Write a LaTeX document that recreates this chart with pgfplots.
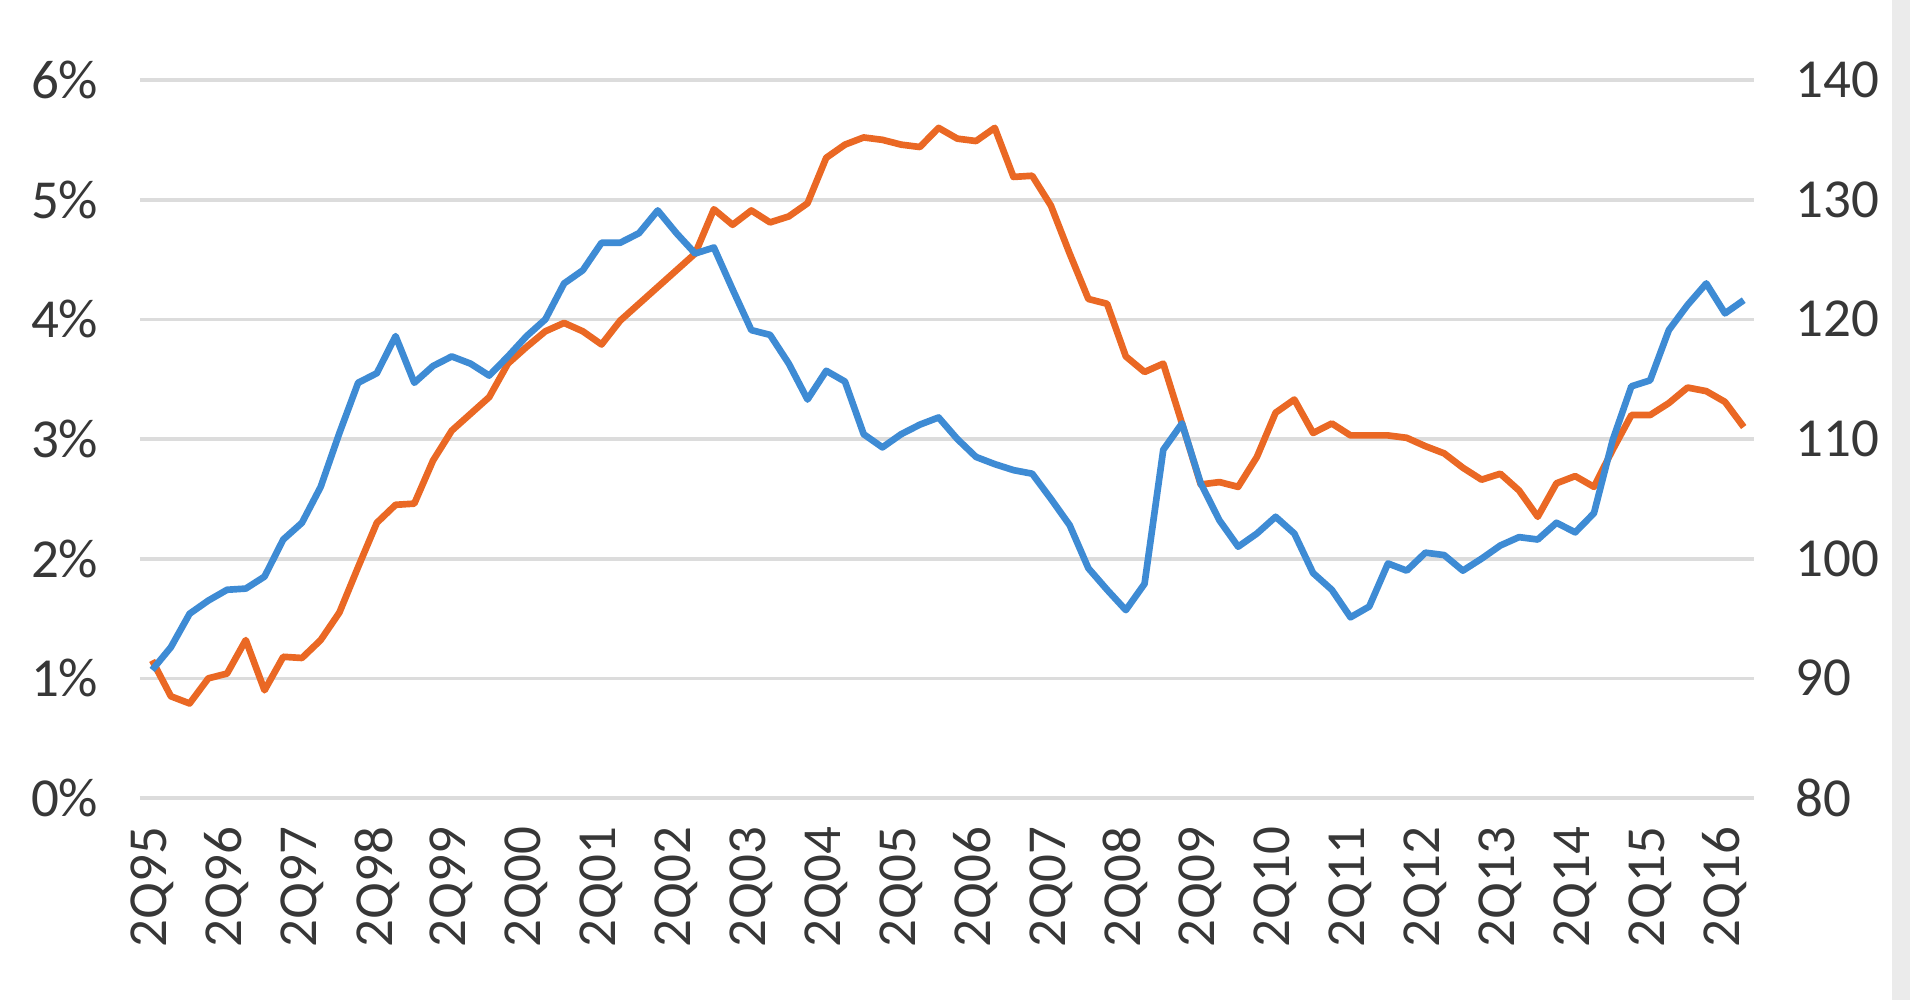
\documentclass[border=0pt]{standalone}
\usepackage{fontspec}
\setmainfont{Carlito}
\usepackage{pgfplots}
\pgfplotsset{compat=1.18}
\definecolor{lineblue}{RGB}{62,139,212}
\definecolor{lineorange}{RGB}{234,104,36}
\definecolor{gridgray}{RGB}{220,220,220}
\definecolor{labelgray}{RGB}{55,55,55}

\begin{document}
\begin{tikzpicture}
\path[use as bounding box] (-42pt,-60.6pt) rectangle (531pt,239.4pt);
\fill[black!8] (525.6pt,-60.6pt) rectangle (531pt,239.4pt);
\pgfplotsset{common/.style={
  width=484.2pt, height=215.4pt, scale only axis,
  at={(0,0)}, anchor=south west,
  xmin=-0.65, xmax=85.55,
  axis line style={draw=none},
  major tick length=0pt,
  tick label style={font=\fontsize{16.5}{18}\selectfont, text=labelgray},
}}
\begin{axis}[common,
  ymin=0, ymax=6,
  ytick={0,1,2,3,4,5,6},
  yticklabels={0\%,1\%,2\%,3\%,4\%,5\%,6\%},
  ymajorgrids,
  grid style={gridgray, line width=1.1pt},
  xtick={0,4,...,84},
  xticklabels={2Q95,2Q96,2Q97,2Q98,2Q99,2Q00,2Q01,2Q02,2Q03,2Q04,2Q05,2Q06,2Q07,2Q08,2Q09,2Q10,2Q11,2Q12,2Q13,2Q14,2Q15,2Q16},
  xticklabel style={rotate=90, anchor=east},
  xticklabel shift=5pt,
  yticklabel shift=9pt,
]
\addplot[lineorange, line width=2pt, line join=round] table {
x y
0 1.15
1 0.85
2 0.79
3 1.00
4 1.04
5 1.32
6 0.90
7 1.18
8 1.17
9 1.32
10 1.55
11 1.93
12 2.30
13 2.45
14 2.46
15 2.82
16 3.07
17 3.21
18 3.35
19 3.63
20 3.77
21 3.90
22 3.97
23 3.90
24 3.79
25 3.99
26 4.13
27 4.27
28 4.41
29 4.55
30 4.92
31 4.79
32 4.91
33 4.81
34 4.86
35 4.97
36 5.35
37 5.46
38 5.52
39 5.50
40 5.46
41 5.44
42 5.60
43 5.51
44 5.49
45 5.60
46 5.19
47 5.20
48 4.95
49 4.55
50 4.17
51 4.13
52 3.69
53 3.56
54 3.63
55 3.13
56 2.62
57 2.64
58 2.60
59 2.85
60 3.22
61 3.33
62 3.05
63 3.13
64 3.03
65 3.03
66 3.03
67 3.01
68 2.94
69 2.88
70 2.76
71 2.66
72 2.71
73 2.57
74 2.35
75 2.63
76 2.69
77 2.60
78 2.91
79 3.20
80 3.20
81 3.30
82 3.43
83 3.40
84 3.31
85 3.10
};
\end{axis}
\begin{axis}[common,
  ymin=80, ymax=140,
  axis y line*=right, axis x line=none,
  ytick={80,90,100,110,120,130,140},
  yticklabels={80,90,100,110,120,130,140},
  yticklabel shift=9pt,
]
\addplot[lineblue, line width=2pt, line join=round] table {
x y
0 90.7
1 92.6
2 95.4
3 96.5
4 97.4
5 97.5
6 98.5
7 101.6
8 103.0
9 106.0
10 110.5
11 114.7
12 115.5
13 118.6
14 114.7
15 116.1
16 116.9
17 116.3
18 115.3
19 116.9
20 118.6
21 120.0
22 123.0
23 124.1
24 126.4
25 126.4
26 127.2
27 129.1
28 127.2
29 125.5
30 126.0
31 122.5
32 119.1
33 118.7
34 116.3
35 113.3
36 115.7
37 114.8
38 110.4
39 109.3
40 110.4
41 111.2
42 111.8
43 110.0
44 108.5
45 107.9
46 107.4
47 107.1
48 105.0
49 102.8
50 99.2
51 97.4
52 95.7
53 97.9
54 109.1
55 111.3
56 106.3
57 103.2
58 101.0
59 102.1
60 103.5
61 102.1
62 98.8
63 97.4
64 95.1
65 96.0
66 99.6
67 99.0
68 100.5
69 100.3
70 99.0
71 100.0
72 101.1
73 101.8
74 101.6
75 103.0
76 102.2
77 103.8
78 109.9
79 114.4
80 114.9
81 119.1
82 121.2
83 123.0
84 120.5
85 121.6
};
\end{axis}
\end{tikzpicture}
\end{document}
